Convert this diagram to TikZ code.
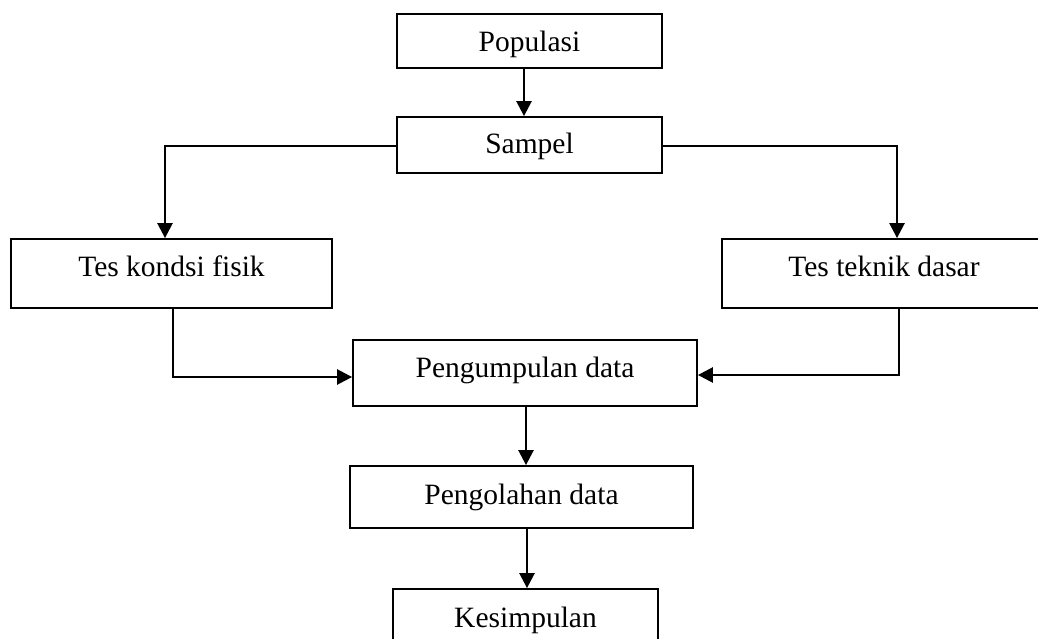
\documentclass[tikz,border=0pt]{standalone}
\usepackage{fontspec}
\setmainfont{Liberation Serif}
\usetikzlibrary{arrows.meta}
\begin{document}
\begin{tikzpicture}[x=1pt,y=-1pt,
  box/.style={draw,line width=1.8pt,inner sep=0pt},
  lbl/.style={anchor=base,inner sep=0pt,font=\fontsize{29.5}{35}\selectfont},
  thinline/.style={line width=1.6pt,line cap=rect},
  flow/.style={line width=2.5pt,-{Triangle[length=15pt,width=15pt]}}]
  \clip (0,0) rectangle (1038,639);

  % boxes
  \node[box,minimum width=265pt,minimum height=54pt] (pop)  at (529.5,41)  {};
  \node[box,minimum width=265pt,minimum height=56pt] (samp) at (529.5,145) {};
  \node[box,minimum width=321pt,minimum height=69pt] (tk)   at (171.5,273.5) {};
  \node[box,minimum width=340pt,minimum height=69pt] (tt)   at (892,273.5) {};
  \node[box,minimum width=344pt,minimum height=66pt] (peng) at (525,373)   {};
  \node[box,minimum width=343pt,minimum height=62pt] (olah) at (521.5,497) {};
  \node[box,minimum width=265pt,minimum height=62pt] (kes)  at (525.5,620) {};

  % labels
  \node[lbl] (popt)  at (529.5,52)   {Populasi};
  \node[lbl] (sampt) at (529.5,154)  {Sampel};
  \node[lbl] (tkt)   at (171.5,276.7){Tes kondsi fisik};
  \node[lbl] (ttt)   at (884,276.7)  {Tes teknik dasar};
  \node[lbl] (pengt) at (525,377.3)  {Pengumpulan data};
  \node[lbl] (olaht) at (521.5,504)  {Pengolahan data};
  \node[lbl] (kest)  at (525.5,627.7){Kesimpulan};

  % connectors
  \coordinate (a1) at (524,0);
  \coordinate (a2) at (526,0);
  \coordinate (a3) at (527,0);
  \draw[flow] (pop.south -| a1) -- (samp.north -| a1);
  \draw[flow] (peng.south -| a2) -- (olah.north -| a2);
  \draw[flow] (olah.south -| a3) -- (kes.north -| a3);

  \coordinate (lc) at (165,146);
  \coordinate (rc) at (897,146);
  \draw[thinline] (samp.west |- lc) -- (lc);
  \draw[flow] (lc) -- (lc |- tk.north);
  \draw[thinline] (samp.east |- rc) -- (rc);
  \draw[flow] (rc) -- (rc |- tt.north);

  \coordinate (lb) at (173,377);
  \coordinate (rb) at (899,375);
  \draw[thinline] (tk.south -| lb) -- (lb);
  \draw[flow] (lb) -- (lb -| peng.west);
  \draw[thinline] (tt.south -| rb) -- (rb);
  \draw[flow] (rb) -- (rb -| peng.east);
\end{tikzpicture}
\end{document}
